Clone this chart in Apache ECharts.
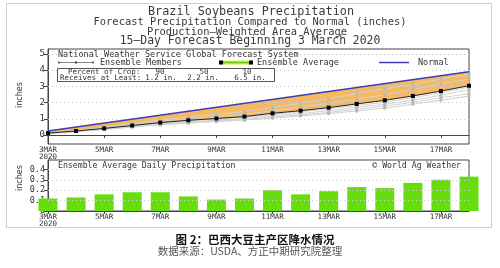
<!DOCTYPE html>
<html><head><meta charset="utf-8">
<script src="https://cdn.jsdelivr.net/npm/echarts@6/dist/echarts.min.js"></script>
<style>html,body{margin:0;padding:0;background:#fff}#c{width:500px;height:268px}</style>
</head><body><div id="c"></div>
<script>
// ---- data ----
const dates = ['3MAR','4MAR','5MAR','6MAR','7MAR','8MAR','9MAR','10MAR','11MAR','12MAR','13MAR','14MAR','15MAR','16MAR','17MAR','18MAR'];
const tickDays = [0,2,4,6,8,10,12,14];
const tickLabels = ['3MAR\n2020','5MAR','7MAR','9MAR','11MAR','13MAR','15MAR','17MAR'];
const cumTicks = [0,1,2,3,4,5];
const dailyTicks = [0,0.1,0.2,0.3,0.4];
// cumulative precipitation, inches
const ensembleAverage = [0.12,0.25,0.41,0.59,0.77,0.91,1.02,1.14,1.34,1.50,1.69,1.92,2.14,2.41,2.71,3.04];
const normalStart = [0, 0.25];
const normalEnd = [15, 3.90];
const member1 = [0.13,0.28,0.48,0.70,0.93,1.12,1.28,1.45,1.70,1.95,2.25,2.55,2.85,3.10,3.45,3.75];
const member2 = [0.12,0.26,0.44,0.64,0.84,1.00,1.14,1.28,1.50,1.72,1.95,2.22,2.48,2.80,3.15,3.45];
const member3 = [0.11,0.23,0.38,0.55,0.70,0.82,0.92,1.02,1.18,1.33,1.50,1.70,1.90,2.15,2.45,2.80];
const member4 = [0.11,0.22,0.36,0.51,0.66,0.77,0.86,0.95,1.10,1.24,1.40,1.58,1.78,2.02,2.30,2.55];
const member5 = [0.10,0.21,0.34,0.49,0.63,0.74,0.83,0.92,1.05,1.18,1.32,1.48,1.66,1.90,2.15,2.40];
const member6 = [0.12,0.24,0.40,0.57,0.74,0.88,0.98,1.10,1.28,1.44,1.62,1.82,2.02,2.30,2.60,2.95];
// daily ensemble average precipitation, inches
const dailyAverage = [0.12,0.13,0.16,0.18,0.18,0.14,0.11,0.12,0.20,0.16,0.19,0.23,0.22,0.27,0.30,0.33];
const cropPercent = ['90','50','10'];
const cropReceives = ['1.2 in.','2.2 in.','6.5 in.'];

// ---- chart ----
const MONO = 'DejaVu Sans Mono';
const AX = '#444';
const pairs = arr => arr.map((v,i)=>[i,v]);
const members = [member1,member2,member3,member4,member5,member6];
const tickFmt = v => { const k = tickDays.indexOf(v); return k>=0 ? tickLabels[k] : ''; };

const chart = echarts.init(document.getElementById('c'), null, {renderer:'canvas'});

const memberSeries = members.map(m => ({
  type:'line', xAxisIndex:0, yAxisIndex:0, data:pairs(m),
  symbol:'rect', symbolSize:3, showSymbol:true,
  lineStyle:{color:'#d2d2d2', width:1},
  itemStyle:{color:'#b8b8b8'}, silent:true, z:3
}));

const txt = (x, y, text, size, extra) => Object.assign({type:'text', x, y, z:100,
  style:Object.assign({text, font:size+'px "'+MONO+'"', fill:'#333', textVerticalAlign:'middle'}, extra||{})});

const option = {
  animation:false,
  backgroundColor:'#fff',
  grid:[
    {left:48, right:31, top:49, height:95, show:true, borderColor:AX, borderWidth:1, backgroundColor:'#fff'},
    {left:48, right:31, top:160, height:51, show:true, borderColor:AX, borderWidth:1, backgroundColor:'#fff'}
  ],
  xAxis:[
    {type:'value', gridIndex:0, min:0, max:15,
     axisLine:{lineStyle:{color:AX}},
     axisTick:{customValues:tickDays, length:3, lineStyle:{color:AX}},
     axisLabel:{customValues:tickDays, formatter:tickFmt, fontFamily:MONO, fontSize:7.5, lineHeight:6.5, margin:3, color:'#333'},
     splitLine:{show:false}},
    {type:'value', gridIndex:1, min:0, max:15,
     axisLine:{lineStyle:{color:AX}},
     axisTick:{customValues:tickDays, length:3, lineStyle:{color:AX}},
     axisLabel:{customValues:tickDays, formatter:tickFmt, fontFamily:MONO, fontSize:7.5, lineHeight:6.5, margin:3, color:'#333'},
     splitLine:{show:false}}
  ],
  yAxis:[
    {type:'value', gridIndex:0, min:-0.55, max:5.3,
     axisLine:{show:true, lineStyle:{color:AX}},
     axisTick:{show:true, customValues:cumTicks, length:4, lineStyle:{color:AX}},
     axisLabel:{customValues:cumTicks, fontFamily:MONO, fontSize:9, margin:3, color:'#333'},
     splitLine:{show:false}},
    {type:'value', gridIndex:1, min:0, max:0.49,
     axisLine:{show:true, lineStyle:{color:AX}},
     axisTick:{show:true, customValues:dailyTicks, length:4, lineStyle:{color:AX}},
     axisLabel:{customValues:dailyTicks, formatter:v=>String(v), fontFamily:MONO, fontSize:8.5, margin:3, color:'#333', hideOverlap:false},
     splitLine:{show:false}}
  ],
  series:[
    {type:'custom', xAxisIndex:0, yAxisIndex:0, data:[[0,0]], z:1, silent:true,
     renderItem:(params, api) => {
       const pts = [api.coord(normalStart), api.coord(normalEnd)];
       for (let i = ensembleAverage.length-1; i >= 0; i--) pts.push(api.coord([i, ensembleAverage[i]]));
       return {type:'polygon', shape:{points:pts}, style:{fill:'#f5b964'}};
     },
     markLine:{silent:true, symbol:'none', label:{show:false},
       lineStyle:{type:[1,3], color:'#c8c8c8', width:1},
       data:[{yAxis:1},{yAxis:2},{yAxis:3},{yAxis:4},{yAxis:5}]}
    },
    ...memberSeries,
    {type:'line', name:'Ensemble Average', xAxisIndex:0, yAxisIndex:0, data:pairs(ensembleAverage),
     symbol:'rect', symbolSize:4, showSymbol:true,
     lineStyle:{color:'#222', width:1}, itemStyle:{color:'#000'}, z:5, silent:true},
    {type:'line', name:'Normal', xAxisIndex:0, yAxisIndex:0, data:[normalStart, normalEnd],
     symbol:'none', lineStyle:{color:'#3d3db8', width:1.5}, z:6, silent:true},
    {type:'bar', xAxisIndex:1, yAxisIndex:1, data:pairs(dailyAverage), barWidth:19, clip:true,
     itemStyle:{color:'#66de0c'}, silent:true,
     markLine:{silent:true, symbol:'none', label:{show:false},
       lineStyle:{type:[1,3], color:'#cfcfcf', width:1},
       data:[{yAxis:0.1},{yAxis:0.2},{yAxis:0.3},{yAxis:0.4}]}}
  ],
  graphic:[
    {type:'rect', shape:{x:6.5, y:3.5, width:485, height:224}, style:{fill:'none', stroke:'#cfcfcf', lineWidth:1}, z:-10, silent:true},
    // titles
    txt(251, 12, 'Brazil Soybeans Precipitation', 11.8, {textAlign:'center', fill:'#3a3a3a'}),
    txt(250, 22.5, 'Forecast Precipitation Compared to Normal (inches)', 10.4, {textAlign:'center', fill:'#3a3a3a'}),
    txt(247, 32, 'Production\u2014Weighted Area Average', 10.4, {textAlign:'center', fill:'#3a3a3a'}),
    txt(250, 41.5, '15\u2014Day Forecast Beginning 3 March 2020', 11.4, {textAlign:'center', fill:'#3a3a3a'}),
    // axis names
    {type:'text', x:20, y:95, rotation:Math.PI/2, style:{text:'inches', font:'8px "DejaVu Sans"', fill:'#333', textAlign:'center', textVerticalAlign:'middle'}},
    {type:'text', x:20, y:178, rotation:Math.PI/2, style:{text:'inches', font:'8px "DejaVu Sans"', fill:'#333', textAlign:'center', textVerticalAlign:'middle'}},
    // legend
    txt(58, 55, 'National Weather Service Global Forecast System', 8.5),
    {type:'line', z:100, shape:{x1:59, y1:62.5, x2:93, y2:62.5}, style:{stroke:'#888', lineWidth:1}},
    {type:'rect', z:101, shape:{x:58, y:61.5, width:2, height:2}, style:{fill:'#666'}},
    {type:'rect', z:101, shape:{x:75, y:61.5, width:2, height:2}, style:{fill:'#333'}},
    {type:'rect', z:101, shape:{x:92, y:61.5, width:2, height:2}, style:{fill:'#666'}},
    txt(100, 62.5, 'Ensemble Members', 8.5),
    {type:'line', z:100, shape:{x1:221, y1:62.5, x2:251, y2:62.5}, style:{stroke:'#d8e83a', lineWidth:4}},
    {type:'line', z:101, shape:{x1:222, y1:62.5, x2:250, y2:62.5}, style:{stroke:'#66c814', lineWidth:1.5}},
    {type:'rect', z:102, shape:{x:219, y:60.5, width:4, height:4}, style:{fill:'#000'}},
    {type:'rect', z:102, shape:{x:249, y:60.5, width:4, height:4}, style:{fill:'#000'}},
    txt(257, 62.5, 'Ensemble Average', 8.5),
    {type:'line', z:100, shape:{x1:379, y1:62.5, x2:409, y2:62.5}, style:{stroke:'#3d3db8', lineWidth:1.5}},
    txt(418, 62.5, 'Normal', 8.5),
    {type:'rect', z:100, shape:{x:57.5, y:68.5, width:217, height:13}, style:{fill:'#fff', stroke:'#555', lineWidth:1}},
    txt(68, 72.3, 'Percent of Crop:', 7.5, {}),
    txt(60, 77.8, 'Receives at Least:', 7.5, {}),
    txt(160, 72.3, cropPercent[0], 7.5, {textAlign:'center'}),
    txt(204, 72.3, cropPercent[1], 7.5, {textAlign:'center'}),
    txt(247, 72.3, cropPercent[2], 7.5, {textAlign:'center'}),
    txt(161, 77.8, cropReceives[0], 7.5, {textAlign:'center'}),
    txt(203, 77.8, cropReceives[1], 7.5, {textAlign:'center'}),
    txt(250, 77.8, cropReceives[2], 7.5, {textAlign:'center'}),
    // bottom panel texts
    txt(58, 165.5, 'Ensemble Average Daily Precipitation', 8.2),
    txt(461, 165.5, '\u00a9 World Ag Weather', 8.2, {textAlign:'right'}),
    // caption
    {type:'text', x:255, y:240, style:{text:'图 2：巴西大豆主产区降水情况', font:'bold 11.5px "Noto Sans CJK SC"', fill:'#111', textAlign:'center', textVerticalAlign:'middle'}},
    {type:'text', x:250, y:251.5, style:{text:'数据来源：USDA、方正中期研究院整理', font:'10.5px "Noto Sans CJK SC"', fill:'#555', textAlign:'center', textVerticalAlign:'middle'}}
  ]
};
chart.setOption(option);
</script>
</body></html>
